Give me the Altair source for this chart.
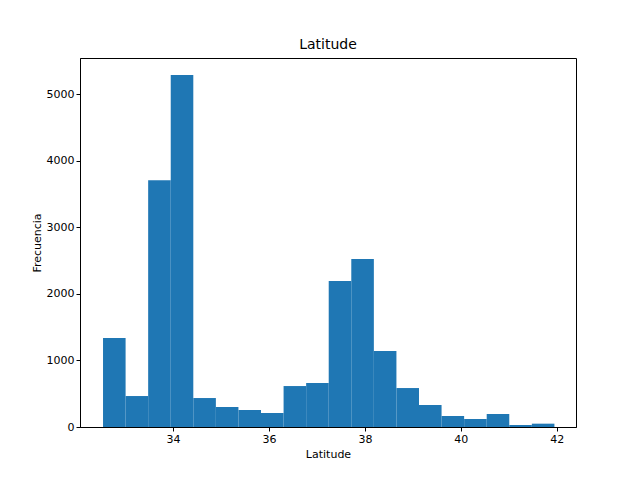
import altair as alt
import pandas as pd

# histogram of latitude, 20 equal bins
lat_min = 32.54
lat_max = 41.95
counts = [1338, 465, 3705, 5285, 435, 300, 255, 210, 615, 660,
          2192, 2522, 1141, 585, 330, 165, 120, 195, 30, 50]

w = (lat_max - lat_min) / len(counts)
df = pd.DataFrame({
    'start': [lat_min + i * w for i in range(len(counts))],
    'end': [lat_min + (i + 1) * w for i in range(len(counts))],
    'count': counts,
})

chart = alt.Chart(df).mark_bar(color='#1f77b4', stroke=None).encode(
    x=alt.X('start:Q', title='Latitude',
            scale=alt.Scale(domain=[32.06, 42.4], nice=False, zero=False),
            axis=alt.Axis(values=[34, 36, 38, 40, 42], grid=False, format='d')),
    x2='end:Q',
    y=alt.Y('count:Q', title='Frecuencia',
            scale=alt.Scale(domain=[0, 5541], nice=False),
            axis=alt.Axis(values=[0, 1000, 2000, 3000, 4000, 5000], grid=False, format='d')),
    y2=alt.datum(0),
).properties(
    width=496, height=369,
    title=alt.TitleParams('Latitude', fontSize=14, fontWeight='normal', font='DejaVu Sans', offset=6),
    autosize=alt.AutoSizeParams(type='none'),
    padding={'left': 72, 'top': 50, 'right': 56, 'bottom': 45},
    background='white',
).configure_view(
    stroke='black', strokeWidth=1
).configure_axis(
    labelFont='DejaVu Sans', titleFont='DejaVu Sans', labelFontSize=11, titleFontSize=11,
    titleFontWeight='normal', domainColor='black', tickColor='black', labelColor='black',
    titleColor='black', tickSize=4
)

chart.save("out.html", embed_options={"renderer": "svg", "actions": False})
